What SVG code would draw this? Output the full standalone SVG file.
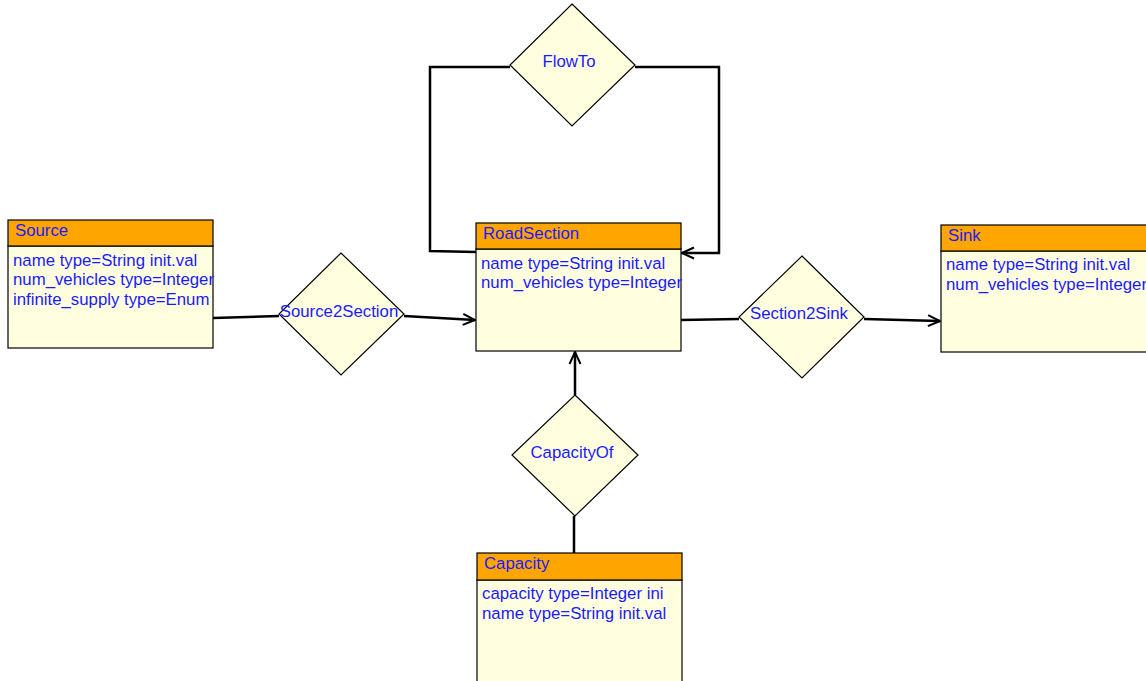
<svg xmlns="http://www.w3.org/2000/svg" width="1146" height="681" viewBox="0 0 1146 681">
<defs>
<style>
.hd{fill:#FFA500;stroke:#000;stroke-width:1.2}
.bd{fill:#FFFFE0;stroke:#000;stroke-width:1.2}
.dm{fill:#FFFFE0;stroke:#000;stroke-width:1.2}
.t{font-family:"Liberation Sans",Arial,sans-serif;font-size:16.8px;fill:#1a1aff}
.tc{font-family:"Liberation Sans",Arial,sans-serif;font-size:16.8px;fill:#1a1aff;text-anchor:middle}
.c{fill:none;stroke:#000;stroke-width:2.5;stroke-linejoin:miter}
</style>
<marker id="ar" viewBox="0 0 14 14" refX="13" refY="7" markerWidth="14" markerHeight="14" markerUnits="userSpaceOnUse" orient="auto">
<path d="M1,1.5 L13,7 L1,12.5" fill="none" stroke="#000" stroke-width="2"/>
</marker>
</defs>
<g id="connectors">
<path class="c" d="M213,318 L279,316"/>
<path class="c" d="M404,316 L475,320" marker-end="url(#ar)"/>
<path class="c" d="M476,252 L430,251 L430,67 L510,67"/>
<path class="c" d="M635,67 L719,67 L719,253 L682,253" marker-end="url(#ar)"/>
<path class="c" d="M681,320 L739,319"/>
<path class="c" d="M864,319 L940,321" marker-end="url(#ar)"/>
<path class="c" d="M574,553 L574,516"/>
<path class="c" d="M575,395 L575,352" marker-end="url(#ar)"/>
</g>
<g id="Source">
<rect class="bd" x="8" y="246" width="205" height="102"/>
<rect class="hd" x="8" y="220" width="205" height="26"/>
<text class="t" x="15" y="236">Source</text>
<text class="t" x="13" y="266">name type=String init.val</text>
<text class="t" x="13" y="285">num_vehicles type=Integer</text>
<text class="t" x="13" y="305">infinite_supply type=Enum</text>
</g>
<g id="RoadSection">
<rect class="bd" x="476" y="249" width="205" height="102"/>
<rect class="hd" x="476" y="223" width="205" height="26"/>
<text class="t" x="483" y="239">RoadSection</text>
<text class="t" x="481" y="269">name type=String init.val</text>
<text class="t" x="481" y="288">num_vehicles type=Integer</text>
</g>
<g id="Sink">
<rect class="bd" x="941" y="251" width="210" height="101"/>
<rect class="hd" x="941" y="225" width="210" height="26"/>
<text class="t" x="948" y="241">Sink</text>
<text class="t" x="946" y="270">name type=String init.val</text>
<text class="t" x="946" y="290">num_vehicles type=Integer</text>
</g>
<g id="Capacity">
<rect class="bd" x="477" y="580" width="205" height="106"/>
<rect class="hd" x="477" y="553" width="205" height="27"/>
<text class="t" x="484" y="569">Capacity</text>
<text class="t" x="482" y="599">capacity type=Integer ini</text>
<text class="t" x="482" y="619">name type=String init.val</text>
</g>
<g id="FlowTo">
<polygon class="dm" points="572,4 635,65 572,126 510,65"/>
<text class="tc" x="569" y="67">FlowTo</text>
</g>
<g id="Source2Section">
<polygon class="dm" points="341,253 404,314 341,375 279,314"/>
<text class="tc" x="339" y="317">Source2Section</text>
</g>
<g id="Section2Sink">
<polygon class="dm" points="802,256 864,317 802,378 739,317"/>
<text class="tc" x="799" y="319">Section2Sink</text>
</g>
<g id="CapacityOf">
<polygon class="dm" points="575,395 638,455 575,516 512,455"/>
<text class="tc" x="572" y="458">CapacityOf</text>
</g>
</svg>
